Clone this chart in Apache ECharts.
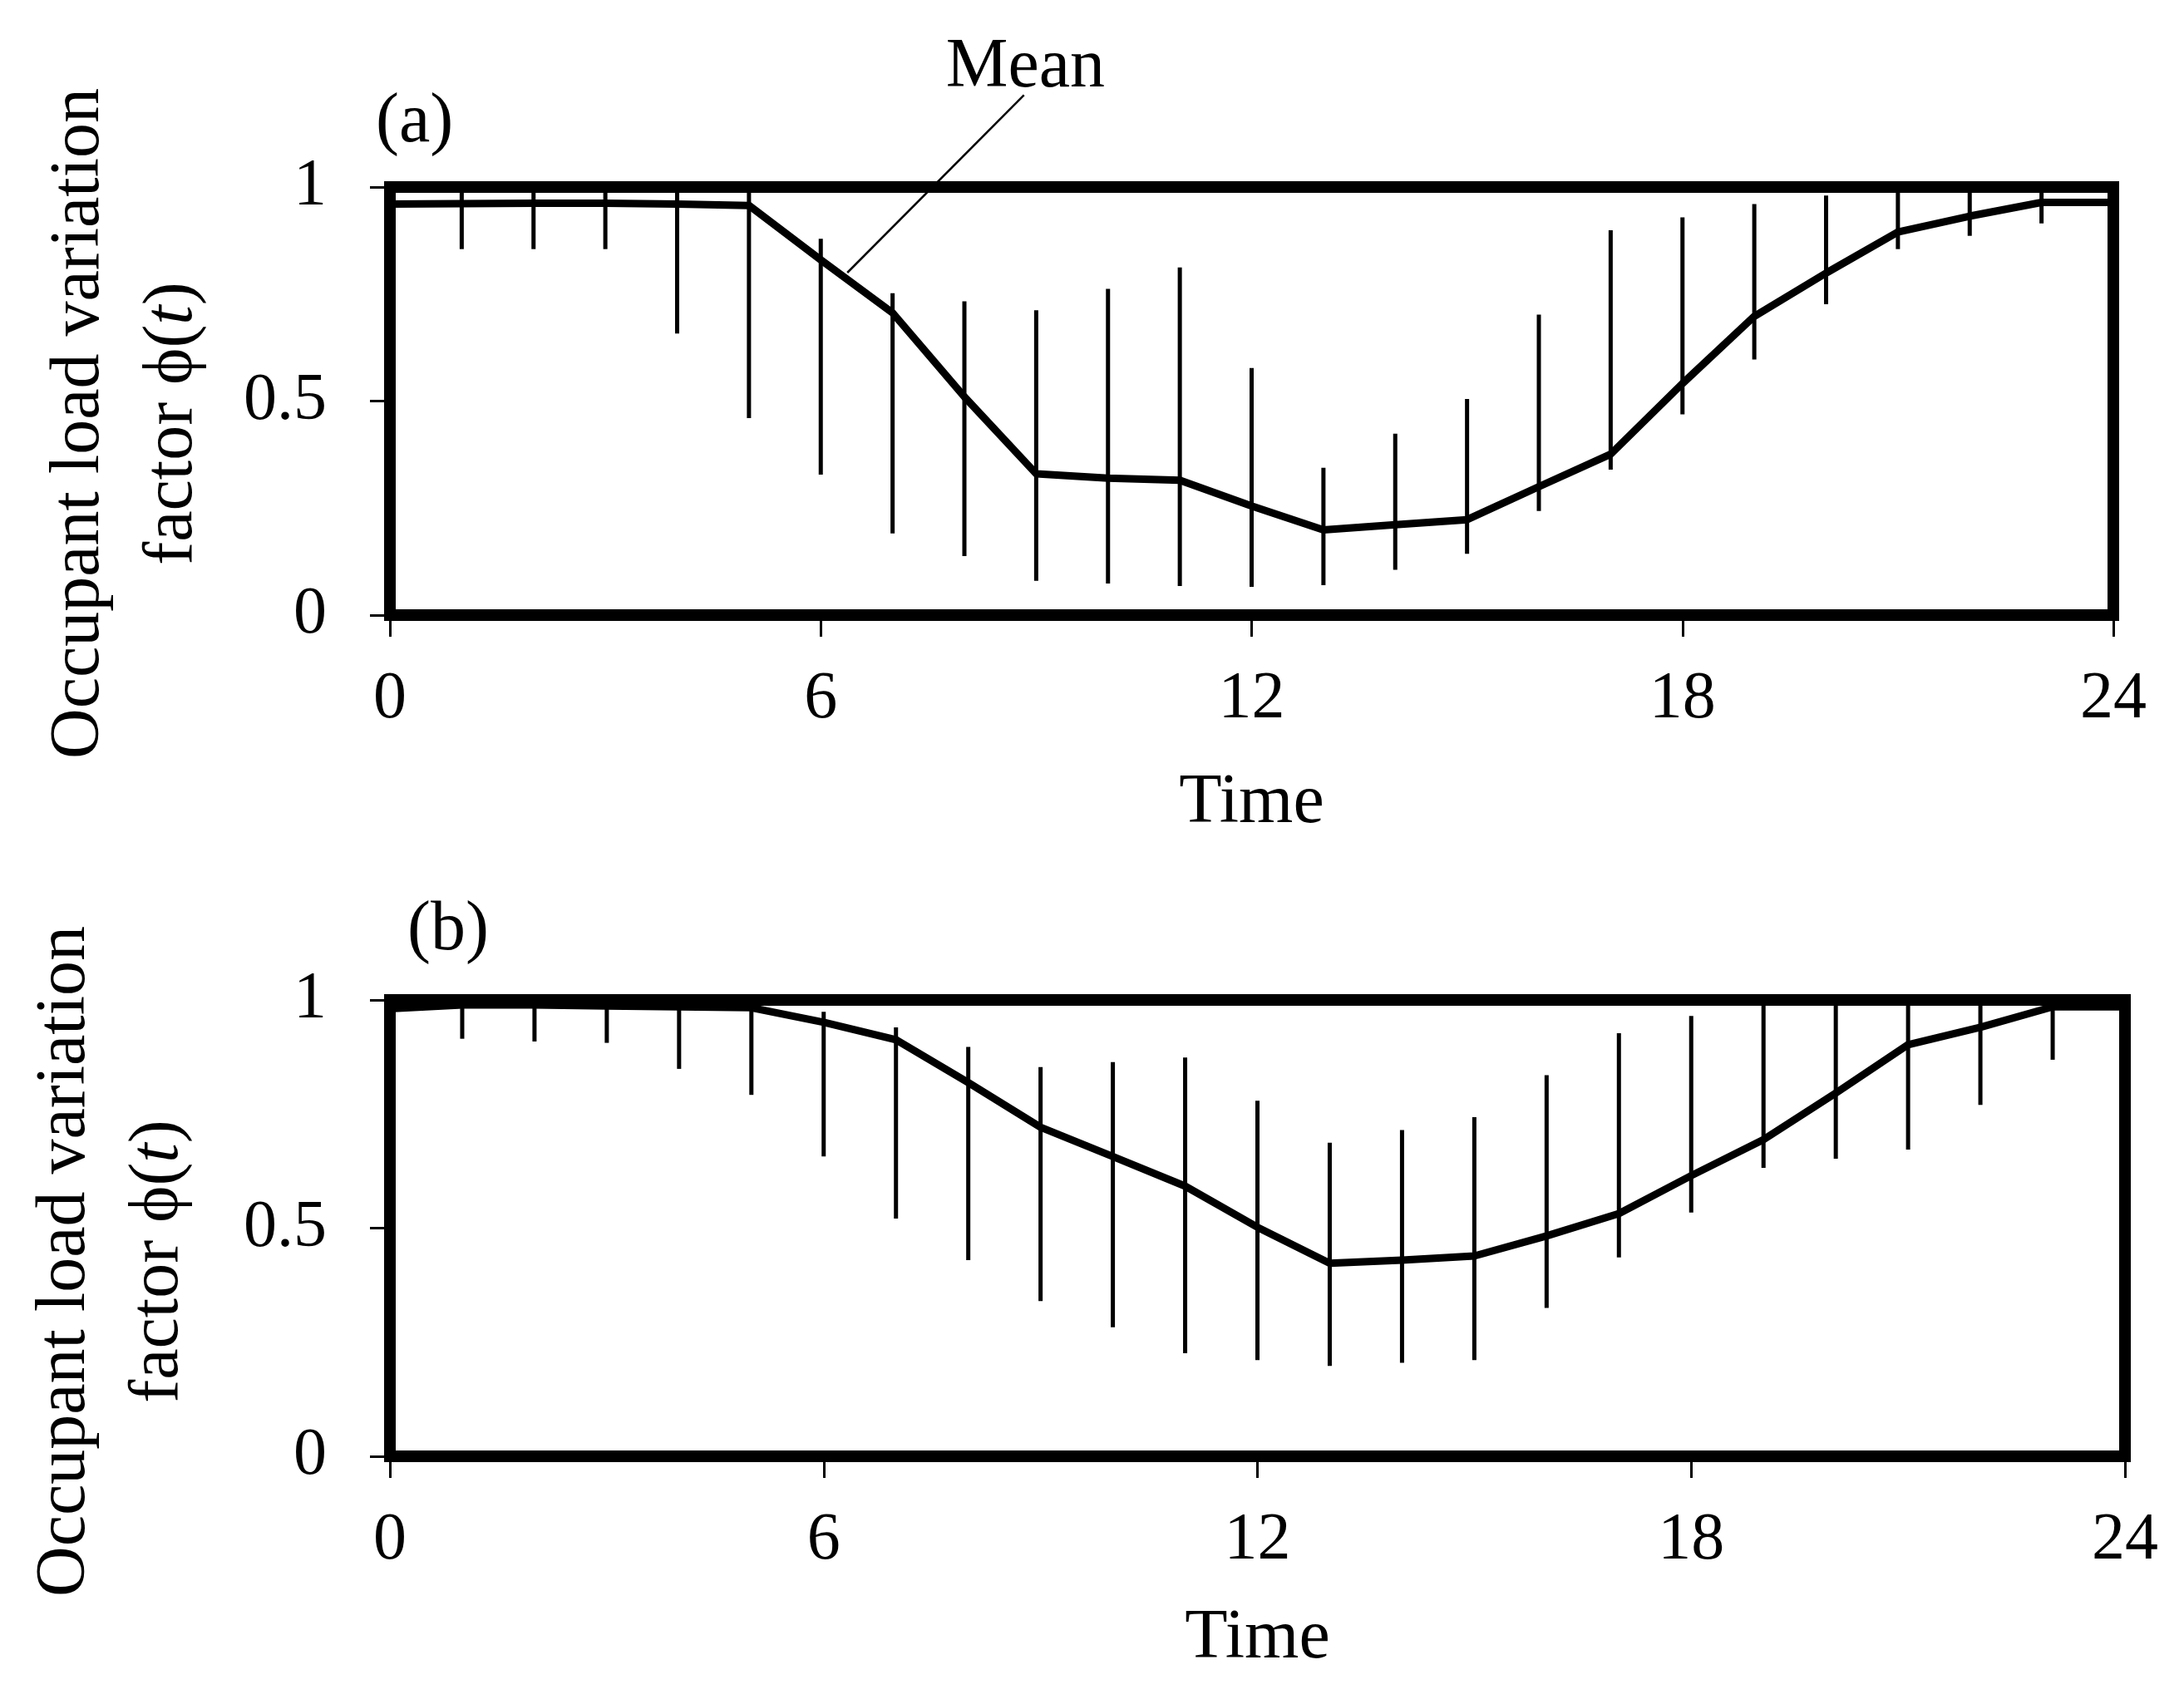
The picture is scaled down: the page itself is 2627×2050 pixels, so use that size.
<!DOCTYPE html>
<html>
<head>
<meta charset="utf-8">
<script src="https://cdn.jsdelivr.net/npm/echarts@6/dist/echarts.min.js"></script>
<style>
html,body{margin:0;padding:0;background:#fff;}
#chart{width:2627px;height:2050px;}
</style>
</head>
<body>
<div id="chart"></div>
<script>
// ---- data ----
const hours = [0,1,2,3,4,5,6,7,8,9,10,11,12,13,14,15,16,17,18,19,20,21,22,23,24];
const xTicks = [0, 6, 12, 18, 24];
const yTicks = [0, 0.5, 1];

const meanA  = [0.960,0.961,0.962,0.962,0.960,0.957,0.830,0.706,0.510,0.330,0.320,0.315,0.255,0.199,0.211,0.223,0.300,0.376,0.541,0.698,0.799,0.895,0.932,0.964,0.964];
const upperA = [null,1,1,1,1,1,0.879,0.752,0.733,0.712,0.762,0.812,0.577,0.344,0.424,0.505,0.702,0.899,0.929,0.960,0.980,1,1,1,null];
const lowerA = [null,0.855,0.855,0.855,0.658,0.460,0.328,0.191,0.138,0.080,0.074,0.068,0.066,0.070,0.106,0.143,0.243,0.340,0.469,0.597,0.726,0.855,0.886,0.915,null];

const meanB  = [0.981,0.989,0.989,0.987,0.985,0.983,0.951,0.913,0.819,0.721,0.657,0.592,0.502,0.423,0.430,0.439,0.483,0.532,0.615,0.694,0.796,0.902,0.940,0.985,0.985];
const upperB = [null,1,1,1,1,1,0.974,0.940,0.897,0.853,0.864,0.874,0.779,0.687,0.715,0.743,0.835,0.927,0.965,1,1,1,1,1,null];
const lowerB = [null,0.915,0.909,0.906,0.849,0.792,0.657,0.521,0.430,0.340,0.283,0.226,0.211,0.198,0.205,0.211,0.325,0.436,0.534,0.632,0.652,0.672,0.770,0.869,null];

const panelLabels = ['(a)', '(b)'];
const xName = 'Time';
const yName = 'Occupant load variation\nfactor ϕ({i|t})';
const meanText = 'Mean';
// annotation anchor (data coords of panel a): leader start on line, leader end, text position
const meanLeader = [[6.37, 0.80], [8.83, 1.215]];
const meanTextPos = [8.85, 1.196];

// ---- chart ----
const FONT = "'Liberation Serif', 'Times New Roman', serif";
const chart = echarts.init(document.getElementById('chart'), null, {renderer: 'canvas'});

function zipPairs(a){ return hours.map((h,i)=>[h, a[i]]); }
function zipBars(lo, hi){ return hours.map((h,i)=>[h, lo[i], hi[i]]); }

function xAxisCfg(gi){
  return {
    type:'value', gridIndex:gi, min:0, max:24, interval:6,
    axisLine:{show:false},
    axisTick:{show:true, length:26, lineStyle:{color:'#000', width:3}},
    axisLabel:{show:true, margin:62, fontSize:80, color:'#000', fontFamily:FONT,
      formatter:(v)=> xTicks.includes(v) ? String(v) : ''},
    splitLine:{show:false},
    name:xName, nameLocation:'middle', nameGap: gi===0 ? 185 : 178,
    nameTextStyle:{fontSize:84, color:'#000', fontFamily:FONT}
  };
}
function yAxisCfg(gi){
  return {
    type:'value', gridIndex:gi, min:0, max:1, interval:0.5,
    axisLine:{show:false},
    axisTick:{show:true, length:24, lineStyle:{color:'#000', width:3}},
    axisLabel:{show:true, margin:76, fontSize:80, color:'#000', fontFamily:FONT,
      formatter:(v)=> yTicks.includes(v) ? String(v) : ''},
    splitLine:{show:false},
    name:yName, nameLocation:'middle', nameGap: gi===0 ? 205 : 222, nameRotate:90,
    nameTextStyle:{fontSize:84, color:'#000', fontFamily:FONT, lineHeight:112,
      padding:[0, gi===0 ? 54 : 80, 0, 0],
      rich:{i:{fontStyle:'italic', fontSize:84, fontFamily:FONT, color:'#000', lineHeight:112}}}
  };
}

function barSeries(gi, lo, hi){
  return {
    type:'custom', xAxisIndex:gi, yAxisIndex:gi, z:3,
    data: zipBars(lo, hi),
    renderItem:(params, api)=>{
      const hiV = api.value(2), loV = api.value(1);
      if (hiV == null || loV == null || isNaN(hiV) || isNaN(loV)) return null;
      const p1 = api.coord([api.value(0), loV]);
      const p2 = api.coord([api.value(0), hiV]);
      return {type:'line', shape:{x1:p1[0], y1:p1[1], x2:p2[0], y2:p2[1]},
        style:{stroke:'#000', lineWidth:5, lineCap:'butt'}};
    }
  };
}
function meanSeries(gi, m){
  return {
    type:'line', xAxisIndex:gi, yAxisIndex:gi, z:4,
    data: zipPairs(m), symbol:'none', smooth:false,
    lineStyle:{color:'#000', width:9, join:'round'}
  };
}

const option = {
  backgroundColor:'#fff',
  animation:false,
  title:[
    {text:panelLabels[0], left:452, top:106, padding:0, textStyle:{fontSize:84, fontWeight:'normal', color:'#000', fontFamily:FONT}},
    {text:panelLabels[1], left:490, top:1078, padding:0, textStyle:{fontSize:84, fontWeight:'normal', color:'#000', fontFamily:FONT}}
  ],
  grid:[
    {left:469, right:85, top:225, height:515, show:true, borderColor:'#000', borderWidth:14, backgroundColor:'transparent'},
    {left:469, right:71, top:1203, height:549, show:true, borderColor:'#000', borderWidth:14, backgroundColor:'transparent'}
  ],
  xAxis:[xAxisCfg(0), xAxisCfg(1)],
  yAxis:[yAxisCfg(0), yAxisCfg(1)],
  series:[
    barSeries(0, lowerA, upperA),
    meanSeries(0, meanA),
    barSeries(1, lowerB, upperB),
    meanSeries(1, meanB)
  ]
};
chart.setOption(option);

// annotation: leader line + "Mean" text positioned from data coordinates
const a = chart.convertToPixel({gridIndex:0}, meanLeader[0]);
const b = chart.convertToPixel({gridIndex:0}, meanLeader[1]);
const t = chart.convertToPixel({gridIndex:0}, meanTextPos);
chart.setOption({
  graphic:[
    {type:'line', z:10, shape:{x1:a[0], y1:a[1], x2:b[0], y2:b[1]}, style:{stroke:'#000', lineWidth:2.5}},
    {type:'text', z:10, x:t[0], y:t[1], style:{text:meanText, fontSize:84, fontFamily:FONT, fill:'#000', textAlign:'center', textVerticalAlign:'bottom'}}
  ]
});
</script>
</body>
</html>
